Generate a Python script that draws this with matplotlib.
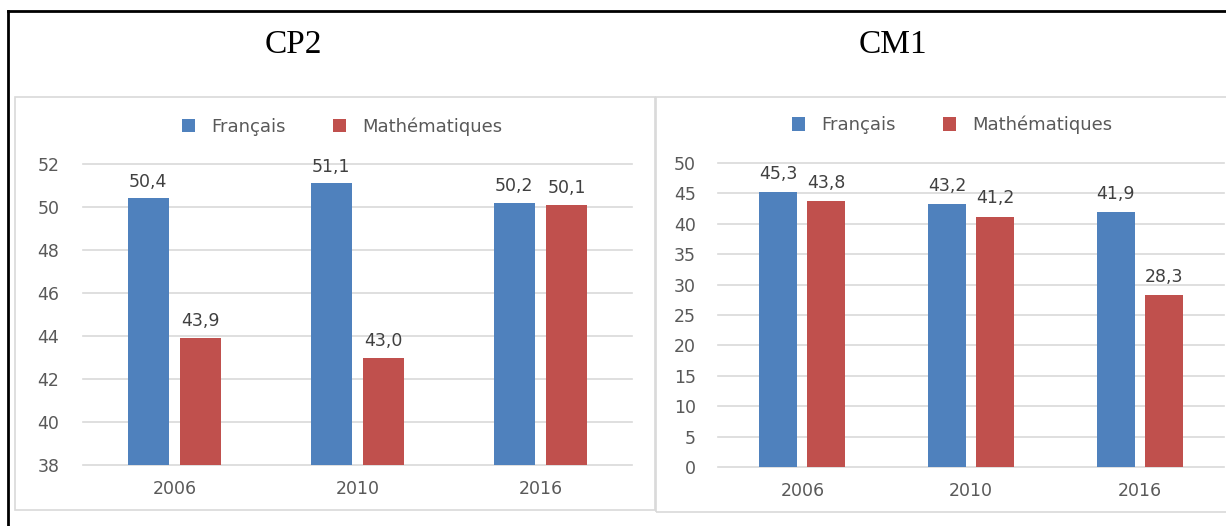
import matplotlib
matplotlib.use("Agg")
import matplotlib.pyplot as plt
from matplotlib.patches import Rectangle
from matplotlib.lines import Line2D
import numpy as np

# data
years = ["2006", "2010", "2016"]
cp2_francais = [50.4, 51.1, 50.2]
cp2_maths = [43.9, 43.0, 50.1]
cm1_francais = [45.3, 43.2, 41.9]
cm1_maths = [43.8, 41.2, 28.3]
cp2_ticks = [38, 40, 42, 44, 46, 48, 50, 52]
cm1_ticks = [0, 5, 10, 15, 20, 25, 30, 35, 40, 45, 50]

BLUE = "#4F81BD"
RED = "#C0504D"
TXT = "#595959"
GRID = "#D9D9D9"
W, H = 1226, 526

plt.rcParams['font.family'] = ['DejaVu Sans']
fig = plt.figure(figsize=(W / 100, H / 100), dpi=100)


def fx(px):
    return px / W


def fy(py):
    return 1 - py / H


# outer black frame (left and top visible)
fig.add_artist(Line2D([fx(8), fx(8)], [fy(11), 0], color="black", lw=2))
fig.add_artist(Line2D([fx(8), 1], [fy(11), fy(11)], color="black", lw=2))

# light panel borders
fig.add_artist(Rectangle((fx(15), fy(510)), fx(640), (510 - 97) / H,
                         fill=False, ec=GRID, lw=1.2))
fig.add_artist(Rectangle((fx(656), fy(512)), fx(580), (512 - 97) / H,
                         fill=False, ec=GRID, lw=1.2))

fig.text(fx(293), fy(45), "CP2", family="Liberation Serif", fontsize=24,
         ha="center", va="center")
fig.text(fx(893), fy(45), "CM1", family="Liberation Serif", fontsize=24,
         ha="center", va="center")


def panel(rect, fr, ma, ticks, leg_x, label_off, ypad):
    ax = fig.add_axes(rect)
    x = np.arange(len(years))
    w = 0.225
    b1 = ax.bar(x - 0.143, fr, w, color=BLUE, label="Français", zorder=3)
    b2 = ax.bar(x + 0.143, ma, w, color=RED, label="Mathématiques", zorder=3)
    ax.set_ylim(ticks[0], ticks[-1])
    ax.set_xlim(-0.5, len(years) - 0.5)
    ax.set_yticks(ticks)
    ax.set_xticks(x)
    ax.set_xticklabels(years)
    ax.yaxis.grid(True, color=GRID, lw=1.2)
    for gl in ax.get_ygridlines():
        gl.set_clip_on(False)
    ax.set_axisbelow(True)
    for s in ax.spines.values():
        s.set_visible(False)
    ax.tick_params(length=0, colors=TXT, labelsize=12.5)
    ax.tick_params(axis="x", pad=11)
    ax.tick_params(axis="y", pad=ypad)
    for bars in (b1, b2):
        for r in bars:
            v = r.get_height()
            ax.annotate(f"{v:.1f}".replace(".", ","),
                        (r.get_x() + r.get_width() / 2, v),
                        xytext=(0, label_off), textcoords="offset points",
                        ha="center", va="center", fontsize=12.5, color="#404040")
    ax.legend(loc="center", bbox_to_anchor=(leg_x, 1.125), ncol=2,
              frameon=False, fontsize=13, labelcolor=TXT,
              handlelength=0.75, handleheight=0.75, columnspacing=2.6,
              handletextpad=0.9)
    return ax


panel([fx(83), 61 / H, fx(632) - fx(83), (362 - 61) / H],
      cp2_francais, cp2_maths, cp2_ticks, 0.472, 12, 17)
panel([fx(718), 59 / H, fx(1224) - fx(718), (363 - 59) / H],
      cm1_francais, cm1_maths, cm1_ticks, 0.463, 13, 16)

fig.savefig("out.png", dpi=100)
